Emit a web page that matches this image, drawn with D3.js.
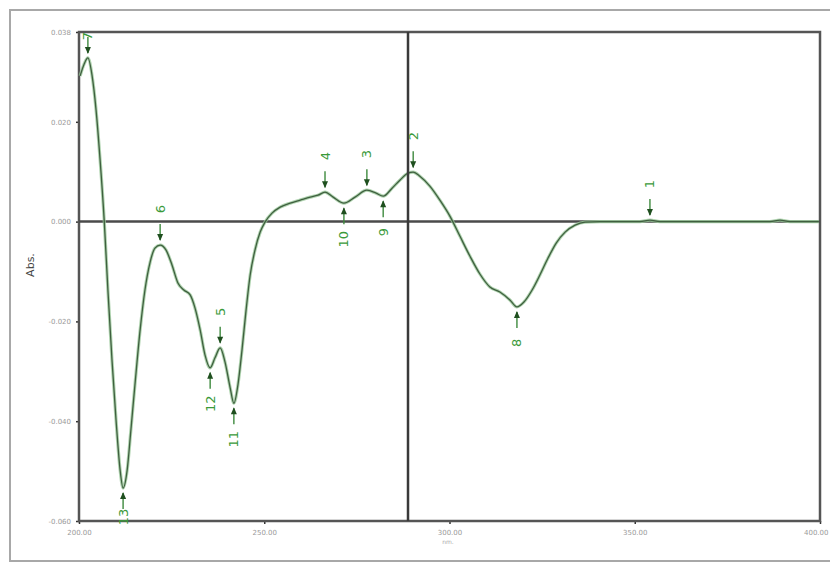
<!DOCTYPE html>
<html>
<head>
<meta charset="utf-8">
<script src="https://cdn.jsdelivr.net/npm/d3@7"></script>
<style>
  body { margin: 0; background: #fff; }
  svg { display: block; }
</style>
</head>
<body>
<div id="chart"></div>
<script>
// spectrum
const wavelength = [200.3, 201.4, 202.4, 203.5, 204.6, 205.7, 206.8, 207.8, 208.9, 210.0, 211.1, 211.9, 213.0, 214.0,
  215.1, 216.5, 217.8, 219.2, 220.5, 221.9, 223.5, 225.1, 226.7, 228.3, 230.0, 231.3, 232.7, 234.0, 235.4, 236.7,
  238.1, 239.4, 240.8, 241.8, 242.9, 244.0, 245.1, 246.2, 247.5, 248.9, 250.2, 252.1, 254.3, 257.0, 259.7, 262.4,
  264.5, 266.4, 268.6, 271.5, 274.5, 277.7, 280.2, 282.1, 284.5, 286.6, 288.8, 290.2, 292.0, 294.7, 297.4, 300.1,
  302.8, 305.5, 308.2, 310.9, 313.6, 316.3, 318.2, 320.1, 322.3, 324.4, 326.6, 328.8, 331.2, 333.9, 336.6, 340.6,
  351.4, 354.1, 356.8, 386.5, 389.2, 391.9, 399.7]
const absorbance = [0.0292, 0.0316, 0.0328, 0.0294, 0.0224, 0.0123, 0.0003, -0.0137, -0.0277, -0.0398, -0.0498, -0.0534, -0.0498, -0.0418,
  -0.0327, -0.0217, -0.0137, -0.0081, -0.0053, -0.0047, -0.0057, -0.0087, -0.0123, -0.0137, -0.0147, -0.0173, -0.0217, -0.0267, -0.0293, -0.0273,
  -0.0253, -0.0281, -0.0333, -0.0364, -0.0327, -0.0257, -0.0177, -0.0107, -0.0057, -0.0021, -0.0001, 0.0017, 0.0029, 0.0037, 0.0043, 0.0049,
  0.0053, 0.0059, 0.0049, 0.0037, 0.0049, 0.0063, 0.0057, 0.0051, 0.0067, 0.0083, 0.0097, 0.0099, 0.0091, 0.0071, 0.0043, 0.0011,
  -0.0029, -0.0069, -0.0105, -0.0131, -0.0141, -0.0157, -0.0171, -0.0161, -0.0137, -0.0107, -0.0073, -0.0043, -0.0021, -0.0007, -0.0001, 0.0000,
  0.0000, 0.0003, 0.0000, 0.0000, 0.0003, 0.0000, 0.0000]

// picked peaks / valleys
const peakNo = [1, 2, 3, 4, 5, 6, 7, 8, 9, 10, 11, 12, 13]
const peakNm = [354.1, 290.2, 277.7, 266.4, 238.1, 221.9, 202.4, 318.2, 282.1, 271.5, 241.8, 235.4, 211.9]
const peakAbs = [0.0003, 0.0099, 0.0063, 0.0059, -0.0253, -0.0047, 0.0328, -0.0171, 0.0051, 0.0037, -0.0364, -0.0293, -0.0534]
const peakType = ['max', 'max', 'max', 'max', 'max', 'max', 'max', 'min', 'min', 'min', 'min', 'min', 'min']

// axes
const xTicks = [200, 250, 300, 350, 400]
const xTickLabels = ['200.00', '250.00', '300.00', '350.00', '400.00']
const yTicks = [0.038, 0.020, 0.000, -0.020, -0.040, -0.060]
const yTickLabels = ['0.038', '0.020', '0.000', '-0.020', '-0.040', '-0.060']
const cursorNm = 288.8

const width = 830
const height = 565
const svg = d3.select('#chart').append('svg').attr('width', width).attr('height', height)

const x = d3.scaleLinear().domain([200, 400]).range([79, 820])
const y = d3.scaleLinear().domain([-0.060, 0.038]).range([521, 32])

// outer frame
svg.append('rect')
  .attr('x', 10).attr('y', 10).attr('width', 830).attr('height', 551)
  .attr('fill', 'none').attr('stroke', '#a8a8a8').attr('stroke-width', 2)

// axes with tiny labels
const xAxis = svg.append('g').attr('transform', `translate(0,${y.range()[0]})`)
  .call(d3.axisBottom(x).tickValues(xTicks).tickSize(3).tickFormat((d, i) => xTickLabels[i]))
const yAxis = svg.append('g').attr('transform', `translate(${x.range()[0]},0)`)
  .call(d3.axisLeft(y).tickValues(yTicks).tickSize(3).tickFormat((d, i) => yTickLabels[i]))
;[xAxis, yAxis].forEach(g => {
  g.select('.domain').remove()
  g.selectAll('line').attr('stroke', '#333').attr('stroke-width', 1.5)
  g.selectAll('text').attr('fill', '#9a9a9a').attr('font-family', 'DejaVu Sans').attr('font-size', 7)
})
xAxis.selectAll('text').attr('dy', '1.1em')
// last x label would run off the page
xAxis.selectAll('.tick:last-of-type text').attr('text-anchor', 'end').attr('dx', 8)
yAxis.selectAll('text').attr('dx', '-2')

// plot frame
svg.append('rect')
  .attr('x', x.range()[0]).attr('y', y.range()[1])
  .attr('width', x.range()[1] - x.range()[0]).attr('height', y.range()[0] - y.range()[1])
  .attr('fill', 'none').attr('stroke', '#555').attr('stroke-width', 2.5)

// zero line
svg.append('line')
  .attr('x1', x.range()[0]).attr('x2', x.range()[1]).attr('y1', y(0)).attr('y2', y(0))
  .attr('stroke', '#4a4a4a').attr('stroke-width', 2.5)

// spectrum
const data = wavelength.map((d, i) => ({ nm: d, abs: absorbance[i] }))
const line = d3.line().x(d => x(d.nm)).y(d => y(d.abs)).curve(d3.curveMonotoneX)
svg.append('path')
  .datum(data)
  .attr('d', line)
  .attr('fill', 'none')
  .attr('stroke', '#9bc89b')
  .attr('stroke-width', 3.2)
  .attr('opacity', 0.8)
svg.append('path')
  .datum(data)
  .attr('d', line)
  .attr('fill', 'none')
  .attr('stroke', '#3f5f3f')
  .attr('stroke-width', 1.3)

// cursor
svg.append('line')
  .attr('x1', x(cursorNm)).attr('x2', x(cursorNm)).attr('y1', y.range()[1]).attr('y2', y.range()[0])
  .attr('stroke', '#3a3a3a').attr('stroke-width', 2.5)

// peak markers
const peaks = peakNo.map((d, i) => ({ no: d, nm: peakNm[i], abs: peakAbs[i], type: peakType[i] }))
const pg = svg.append('g').attr('class', 'peaks')
peaks.forEach(p => {
  const px = x(p.nm)
  const py = y(p.abs)
  const s = p.type === 'max' ? -1 : 1 // label above for peaks, below for valleys
  // keep the label inside the plot frame
  const ly = Math.min(Math.max(py + s * 36, y.range()[1] + 4), y.range()[0] - 4)
  const g = pg.append('g')
  g.append('line')
    .attr('x1', px).attr('x2', px)
    .attr('y1', py + s * 5).attr('y2', py + s * 21)
    .attr('stroke', '#3e8a3e').attr('stroke-width', 1.4)
  g.append('path')
    .attr('d', `M${px},${py + s * 4} L${px - 3},${py + s * 11} L${px + 3},${py + s * 11} Z`)
    .attr('fill', '#1f4f1f')
  g.append('text')
    .text(p.no)
    .attr('transform', `translate(${px + 4.5},${ly}) rotate(-90)`)
    .attr('text-anchor', 'middle')
    .attr('fill', '#3a9a3a')
    .attr('font-family', 'DejaVu Sans')
    .attr('font-size', 13)
})

// axis titles
svg.append('text')
  .text('Abs.')
  .attr('transform', 'translate(34,265) rotate(-90)')
  .attr('text-anchor', 'middle')
  .attr('fill', '#444')
  .attr('font-family', 'DejaVu Sans')
  .attr('font-size', 11)
svg.append('text')
  .text('nm.')
  .attr('x', 448).attr('y', 544)
  .attr('text-anchor', 'middle')
  .attr('fill', '#aaa')
  .attr('font-family', 'DejaVu Sans')
  .attr('font-size', 6)
</script>
</body>
</html>
